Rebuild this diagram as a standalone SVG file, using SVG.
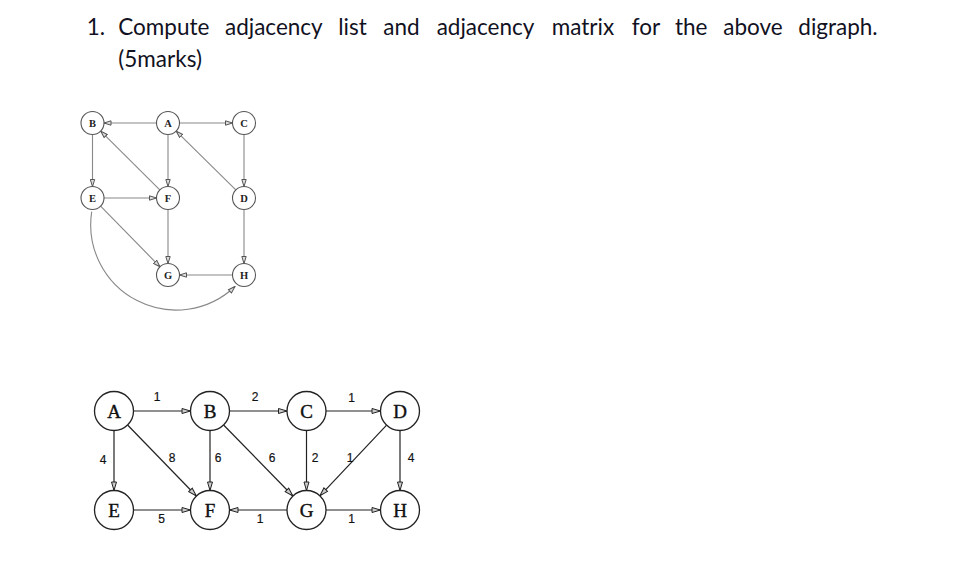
<svg xmlns="http://www.w3.org/2000/svg" width="962" height="584" viewBox="0 0 962 584">
<defs>
<marker id="ah1" markerUnits="userSpaceOnUse" markerWidth="8" markerHeight="6" viewBox="0 0 8 6" refX="7.5" refY="3" orient="auto">
<path d="M0.5,0.8 L7.5,3 L0.5,5.2 Z" fill="#ddd" stroke="#555" stroke-width="1"/>
</marker>
<marker id="ah2" markerUnits="userSpaceOnUse" markerWidth="10" markerHeight="7" viewBox="0 0 10 7" refX="9.5" refY="3.5" orient="auto">
<path d="M1,1 L9.5,3.5 L1,6 Z" fill="#ccc" stroke="#222" stroke-width="1"/>
</marker>
</defs>
<style>
.title{font-family:Lato,"Open Sans",sans-serif;font-size:22.5px;fill:#111122}
.n1 circle{fill:#fff;stroke:#555;stroke-width:1.1}
.n1 text{font-family:"Liberation Serif",serif;font-weight:bold;font-size:10.5px;fill:#222;text-anchor:middle}
.e1{stroke:#888;stroke-width:1.1;fill:none;marker-end:url(#ah1)}
.n2 circle{fill:#fff;stroke:#222;stroke-width:1.3}
.n2 text{font-family:"Liberation Serif",serif;font-size:19px;fill:#111;stroke:#111;stroke-width:0.4;text-anchor:middle}
.e2{stroke:#222;stroke-width:1.2;fill:none;marker-end:url(#ah2)}
.w{font-family:"Liberation Sans",sans-serif;font-size:12px;fill:#111;stroke:#111;stroke-width:0.2;text-anchor:middle}
</style>
<rect width="962" height="584" fill="#fff"/>
<text class="title" y="35"><tspan x="86.7">1.</tspan><tspan x="118.3">Compute</tspan><tspan x="225">adjacency</tspan><tspan x="338.3">list</tspan><tspan x="383.3">and</tspan><tspan x="436.7">adjacency</tspan><tspan x="551.7">matrix</tspan><tspan x="631.7">for</tspan><tspan x="675">the</tspan><tspan x="723.3">above</tspan><tspan x="798.3">digraph.</tspan></text>
<text class="title" x="118.3" y="67">(5marks)</text>
<g id="connectors-top">
<line class="e1" x1="156.5" y1="123" x2="104" y2="123"/>
<line class="e1" x1="179.5" y1="123" x2="232.5" y2="123"/>
<line class="e1" x1="168" y1="134.5" x2="168" y2="186.5"/>
<line class="e1" x1="92.5" y1="134.5" x2="92.5" y2="186.5"/>
<line class="e1" x1="159.8" y1="189.9" x2="100.7" y2="131.1"/>
<line class="e1" x1="244" y1="134.5" x2="244" y2="186.5"/>
<line class="e1" x1="235.8" y1="189.9" x2="176.2" y2="131.1"/>
<line class="e1" x1="104" y1="198" x2="156.5" y2="198"/>
<line class="e1" x1="100.6" y1="206.2" x2="160" y2="266.8"/>
<line class="e1" x1="168" y1="209.5" x2="168" y2="263.5"/>
<line class="e1" x1="244" y1="209.5" x2="244" y2="263.5"/>
<line class="e1" x1="232.5" y1="275" x2="179.5" y2="275"/>
<path class="e1" d="M91.7,211.7 A85.4,85.4 0 0 0 235,286.5"/>
</g>
<g id="top-B" class="n1"><circle cx="92.5" cy="123" r="11.5"/><text x="92.5" y="126.7">B</text></g>
<g id="top-A" class="n1"><circle cx="168" cy="123" r="11.5"/><text x="168" y="126.7">A</text></g>
<g id="top-C" class="n1"><circle cx="244" cy="123" r="11.5"/><text x="244" y="126.7">C</text></g>
<g id="top-E" class="n1"><circle cx="92.5" cy="198" r="11.5"/><text x="92.5" y="201.7">E</text></g>
<g id="top-F" class="n1"><circle cx="168" cy="198" r="11.5"/><text x="168" y="201.7">F</text></g>
<g id="top-D" class="n1"><circle cx="244" cy="198" r="11.5"/><text x="244" y="201.7">D</text></g>
<g id="top-G" class="n1"><circle cx="168" cy="275" r="11.5"/><text x="168" y="278.7">G</text></g>
<g id="top-H" class="n1"><circle cx="244" cy="275" r="11.5"/><text x="244" y="278.7">H</text></g>
<g id="connectors-bottom">
<line class="e2" x1="133.5" y1="411" x2="190.5" y2="411"/>
<line class="e2" x1="229.5" y1="411" x2="287" y2="411"/>
<line class="e2" x1="326" y1="411" x2="380.5" y2="411"/>
<line class="e2" x1="114" y1="430.5" x2="114" y2="490.5"/>
<line class="e2" x1="127.6" y1="425" x2="196.4" y2="496"/>
<line class="e2" x1="210" y1="430.5" x2="210" y2="490.5"/>
<line class="e2" x1="223.6" y1="425" x2="292.9" y2="496"/>
<line class="e2" x1="306.5" y1="430.5" x2="306.5" y2="490.5"/>
<line class="e2" x1="386.6" y1="425.2" x2="319.9" y2="495.8"/>
<line class="e2" x1="400" y1="430.5" x2="400" y2="490.5"/>
<line class="e2" x1="133.5" y1="510" x2="190.5" y2="510"/>
<line class="e2" x1="287" y1="510" x2="229.5" y2="510"/>
<line class="e2" x1="326" y1="510" x2="380.5" y2="510"/>
<text class="w" x="157" y="401">1</text>
<text class="w" x="255" y="401">2</text>
<text class="w" x="351.7" y="402">1</text>
<text class="w" x="103" y="464">4</text>
<text class="w" x="172" y="462">8</text>
<text class="w" x="218" y="462">6</text>
<text class="w" x="272" y="462">6</text>
<text class="w" x="315" y="462">2</text>
<text class="w" x="350" y="462">1</text>
<text class="w" x="411" y="462">4</text>
<text class="w" x="161.7" y="523">5</text>
<text class="w" x="260" y="523">1</text>
<text class="w" x="351.7" y="523">1</text>
</g>
<g id="bot-A" class="n2"><circle cx="114" cy="411" r="19.5"/><text x="114" y="417.5">A</text></g>
<g id="bot-B" class="n2"><circle cx="210" cy="411" r="19.5"/><text x="210" y="417.5">B</text></g>
<g id="bot-C" class="n2"><circle cx="306.5" cy="411" r="19.5"/><text x="306.5" y="417.5">C</text></g>
<g id="bot-D" class="n2"><circle cx="400" cy="411" r="19.5"/><text x="400" y="417.5">D</text></g>
<g id="bot-E" class="n2"><circle cx="114" cy="510" r="19.5"/><text x="114" y="516.5">E</text></g>
<g id="bot-F" class="n2"><circle cx="210" cy="510" r="19.5"/><text x="210" y="516.5">F</text></g>
<g id="bot-G" class="n2"><circle cx="306.5" cy="510" r="19.5"/><text x="306.5" y="516.5">G</text></g>
<g id="bot-H" class="n2"><circle cx="400" cy="510" r="19.5"/><text x="400" y="516.5">H</text></g>
</svg>
